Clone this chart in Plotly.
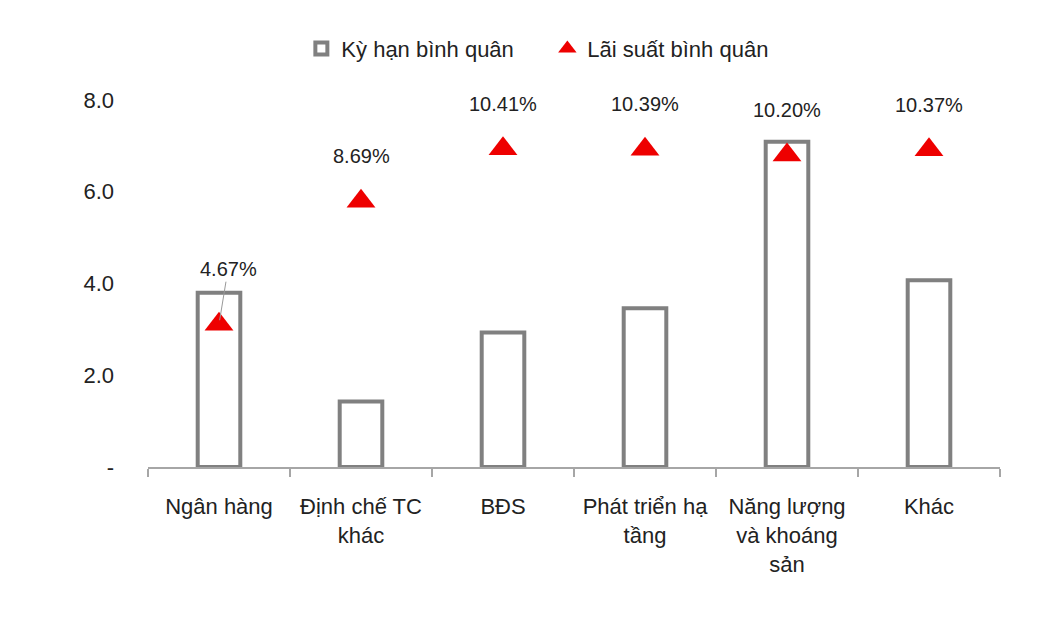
# Kỳ hạn bình quân (bars) và lãi suất bình quân (triangles) theo ngành

import plotly.graph_objects as go

# Data
categories = ["Ngân hàng", "Định chế TC<br>khác", "BĐS", "Phát triển hạ<br>tầng",
              "Năng lượng<br>và khoáng<br>sản", "Khác"]
ky_han = [3.8, 1.43, 2.93, 3.46, 7.09, 4.07]
lai_suat = [4.67, 8.69, 10.41, 10.39, 10.20, 10.37]
y_ticks = [0, 2, 4, 6, 8]
y_tick_text = ["-", "2.0", "4.0", "6.0", "8.0"]

font_name = "Liberation Sans, Arial"
grey = "#808080"

fig = go.Figure()

fig.add_trace(go.Bar(
    x=categories, y=ky_han, name="Kỳ hạn bình quân",
    marker=dict(color="white", line=dict(color=grey, width=4)),
    width=0.3,
))

fig.add_trace(go.Scatter(
    x=categories, y=lai_suat, name="Lãi suất bình quân", yaxis="y2",
    mode="markers", marker=dict(symbol="triangle-up", size=25, color="#ee0000"),
    cliponaxis=False,
))

# percentage labels above triangles (first one with a leader line)
for i, (c, v) in enumerate(zip(categories, lai_suat)):
    if i == 0:
        fig.add_annotation(x=c, y=v, yref="y2", text=f"{v:.2f}%", showarrow=True,
                           ax=9, ay=-55, arrowhead=0, arrowwidth=1, arrowcolor="#999",
                           standoff=4, font=dict(size=20, color="#222"))
    else:
        fig.add_annotation(x=c, y=v, yref="y2", text=f"{v:.2f}%", showarrow=False,
                           yshift=45, font=dict(size=20, color="#222"))

fig.update_layout(
    width=1050, height=630,
    paper_bgcolor="white", plot_bgcolor="white",
    font=dict(family=font_name, size=22, color="#222"),
    margin=dict(l=140, r=58, t=92, b=171),
    showlegend=True,
    legend=dict(orientation="h", x=0.18, xanchor="left", y=1.14, yanchor="middle",
                font=dict(size=22), itemwidth=30, entrywidth=201, entrywidthmode="pixels"),
    bargap=0.7,
    xaxis=dict(showline=True, linecolor="#a6a6a6", linewidth=2,
               ticks="outside", tickson="boundaries", ticklen=8, tickcolor="#a6a6a6",
               tickwidth=2, showgrid=False, ticklabelstandoff=19),
    yaxis=dict(range=[0, 8], tickvals=y_ticks, ticktext=y_tick_text, showgrid=False,
               zeroline=False, showline=False, ticks="", ticklabelstandoff=33),
    yaxis2=dict(range=[0, 12], overlaying="y", side="right", visible=False),
)

fig.write_html("out.html")
